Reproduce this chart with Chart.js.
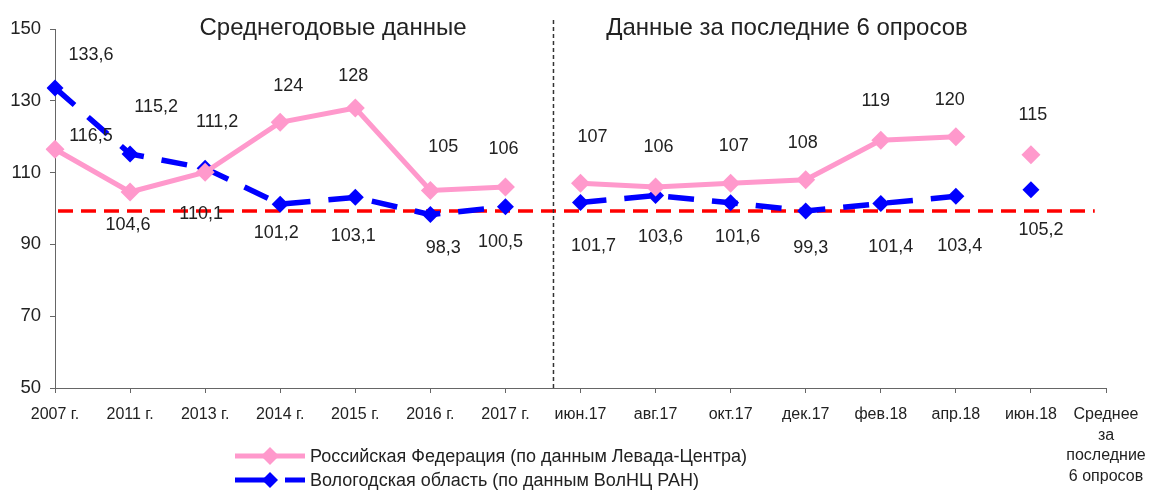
<!DOCTYPE html>
<html>
<head>
<meta charset="utf-8">
<script src="https://cdn.jsdelivr.net/npm/chart.js@4/dist/chart.umd.min.js"></script>
<style>
  html, body { margin: 0; padding: 0; background: #fff; }
  #wrap { width: 1150px; height: 492px; position: relative; }
</style>
</head>
<body>
<div id="wrap"><canvas id="chart" width="1150" height="492"></canvas></div>
<script>
// categories along the x axis
const categories = [
    '2007 г.', '2011 г.', '2013 г.', '2014 г.', '2015 г.', '2016 г.', '2017 г.',
    'июн.17', 'авг.17', 'окт.17', 'дек.17', 'фев.18', 'апр.18', 'июн.18',
    ['Среднее', 'за', 'последние', '6 опросов']
];

// Российская Федерация (Левада-Центр)
const russiaValues = [116.5, 104.6, 110.1, 124, 128, 105, 106, 107, 106, 107, 108, 119, 120, 115, null];
const russiaLabels = ['116,5', '104,6', '110,1', '124', '128', '105', '106', '107', '106', '107', '108', '119', '120', '115', ''];

// Вологодская область (ВолНЦ РАН)
const vologdaValues = [133.6, 115.2, 111.2, 101.2, 103.1, 98.3, 100.5, 101.7, 103.6, 101.6, 99.3, 101.4, 103.4, 105.2, null];
const vologdaLabels = ['133,6', '115,2', '111,2', '101,2', '103,1', '98,3', '100,5', '101,7', '103,6', '101,6', '99,3', '101,4', '103,4', '105,2', ''];

// y axis ticks
const yTicks = [50, 70, 90, 110, 130, 150];

// reference level (red dashed line)
const refLevel = 99.3;

// the lines are broken after these indices
const breakAfter = [6, 12];

const sectionTitles = ['Среднегодовые данные', 'Данные за последние 6 опросов'];
const legendNames = [
    'Российская Федерация (по данным Левада-Центра)',
    'Вологодская область (по данным ВолНЦ РАН)'
];

// label offsets from each point (style, not data)
const russiaOffsets = [[36, -13], [-2, 33], [-4, 42], [8, -36], [-2, -32], [13, -44], [-2, -38],
    [12, -46], [3, -40], [3, -37], [-3, -37], [-5, -39], [-6, -37], [2, -40], [0, 0]];
const vologdaOffsets = [[36, -33], [26, -47], [12, -46], [-4, 29], [-2, 39], [13, 33], [-5, 35],
    [13, 44], [5, 41], [7, 34], [5, 37], [10, 44], [4, 50], [10, 40], [0, 0]];

const FONT = '"Liberation Sans", Arial, sans-serif';
const PINK = '#FF99CC';
const BLUE = '#0000FF';
const RED = '#FF0000';
const TEXT = '#222222';

const breakSegment = (ctx) => breakAfter.includes(ctx.p0DataIndex) ? 'rgba(0,0,0,0)' : undefined;

// custom drawing: reference line, divider, section titles, data labels, legend
const decorPlugin = {
    id: 'decor',
    beforeDatasetsDraw(chart) {
        const { ctx, chartArea, scales } = chart;
        const x = scales.x, y = scales.y;
        ctx.save();
        // red dashed reference line
        const yRef = y.getPixelForValue(refLevel);
        ctx.strokeStyle = RED;
        ctx.lineWidth = 3.5;
        ctx.setLineDash([15, 8]);
        ctx.beginPath();
        ctx.moveTo(chartArea.left + 3, yRef);
        ctx.lineTo(x.getPixelForValue(13.85), yRef);
        ctx.stroke();
        // vertical divider between yearly data and surveys
        const xDiv = x.getPixelForValue(6) + 0.64 * (x.getPixelForValue(7) - x.getPixelForValue(6));
        ctx.strokeStyle = '#333';
        ctx.lineWidth = 1.5;
        ctx.setLineDash([4, 3]);
        ctx.beginPath();
        ctx.moveTo(xDiv, 20);
        ctx.lineTo(xDiv, chartArea.bottom);
        ctx.stroke();
        ctx.restore();
    },
    afterDatasetsDraw(chart) {
        const { ctx } = chart;
        ctx.save();
        ctx.fillStyle = TEXT;
        ctx.textAlign = 'center';
        ctx.textBaseline = 'middle';

        // section titles
        ctx.font = '24px ' + FONT;
        ctx.fillText(sectionTitles[0], 333, 28);
        ctx.fillText(sectionTitles[1], 787, 28);

        // data labels
        ctx.font = '18px ' + FONT;
        const drawLabels = (dsIndex, labels, offsets) => {
            chart.getDatasetMeta(dsIndex).data.forEach((pt, i) => {
                if (!labels[i]) return;
                ctx.fillText(labels[i], pt.x + offsets[i][0], pt.y + offsets[i][1]);
            });
        };
        drawLabels(0, russiaLabels, russiaOffsets);
        drawLabels(1, vologdaLabels, vologdaOffsets);

        // legend
        const rows = [
            { y: 456, color: PINK, width: 5, r: 9, gap: false },
            { y: 480, color: BLUE, width: 5, r: 8, gap: true }
        ];
        rows.forEach((row, i) => {
            ctx.strokeStyle = row.color;
            ctx.lineWidth = row.width;
            ctx.beginPath();
            if (row.gap) {
                ctx.moveTo(235, row.y); ctx.lineTo(268, row.y);
                ctx.moveTo(285, row.y); ctx.lineTo(305, row.y);
            } else {
                ctx.moveTo(235, row.y); ctx.lineTo(305, row.y);
            }
            ctx.stroke();
            ctx.fillStyle = row.color;
            ctx.beginPath();
            ctx.moveTo(270, row.y - row.r);
            ctx.lineTo(270 + row.r, row.y);
            ctx.lineTo(270, row.y + row.r);
            ctx.lineTo(270 - row.r, row.y);
            ctx.closePath();
            ctx.fill();
            ctx.fillStyle = TEXT;
            ctx.textAlign = 'left';
            ctx.font = '18px ' + FONT;
            ctx.fillText(legendNames[i], 310, row.y + 1);
        });
        ctx.restore();
    }
};

new Chart(document.getElementById('chart'), {
    type: 'line',
    data: {
        labels: categories,
        datasets: [{
            label: legendNames[0],
            data: russiaValues,
            borderColor: PINK,
            backgroundColor: PINK,
            borderWidth: 5,
            pointStyle: 'rectRot',
            pointRadius: 9.5,
            pointBorderWidth: 0,
            pointBackgroundColor: PINK,
            tension: 0,
            segment: { borderColor: breakSegment }
        }, {
            label: legendNames[1],
            data: vologdaValues,
            borderColor: BLUE,
            backgroundColor: BLUE,
            borderWidth: 5.5,
            borderDash: [26, 18],
            pointStyle: 'rectRot',
            pointRadius: 8.5,
            pointBorderWidth: 0,
            pointBackgroundColor: BLUE,
            tension: 0,
            segment: { borderColor: breakSegment }
        }]
    },
    options: {
        responsive: false,
        animation: false,
        devicePixelRatio: 1,
        layout: { padding: { top: 29, right: 44, left: 0, bottom: 0 } },
        plugins: {
            legend: { display: false },
            tooltip: { enabled: false }
        },
        scales: {
            x: {
                offset: false,
                grid: { drawOnChartArea: false, tickLength: 5, color: '#666' },
                border: { color: '#666', width: 1 },
                ticks: {
                    autoSkip: false,
                    maxRotation: 0,
                    color: TEXT,
                    padding: 11,
                    font: { family: FONT, size: 16, lineHeight: 1.3 }
                },
                afterFit(scale) {
                    scale.height = 104;
                    scale.paddingLeft = 0;
                    scale.paddingRight = 0;
                }
            },
            y: {
                min: 50,
                max: 150,
                afterBuildTicks(scale) { scale.ticks = yTicks.map(v => ({ value: v })); },
                grid: { drawOnChartArea: false, tickLength: 5, color: '#666' },
                border: { color: '#666', width: 1 },
                ticks: {
                    color: TEXT,
                    padding: 9,
                    font: { family: FONT, size: 18.5 }
                },
                afterFit(scale) { scale.width = 55; }
            }
        }
    },
    plugins: [decorPlugin]
});
</script>
</body>
</html>
